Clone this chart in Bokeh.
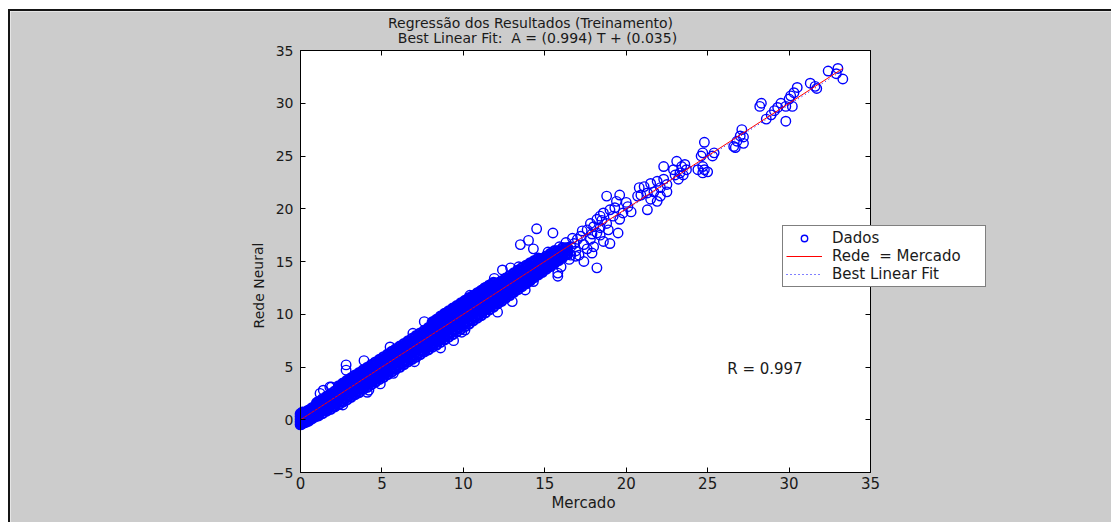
from bokeh.plotting import figure
from bokeh.models import (Range1d, LinearAxis, FixedTicker, Label, Legend,
                          LegendItem, BoxAnnotation)
from bokeh.embed import file_html
from bokeh.resources import INLINE

# ---- texts -------------------------------------------------------------
titulo = "Regressão dos Resultados (Treinamento)"
subtitulo = "Best Linear Fit:\u00a0 A = (0.994) T + (0.035)"
rotulo_x = "Mercado"
rotulo_y = "Rede Neural"
texto_r = "R = 0.997"
legenda = ["Dados", "Rede \u00a0= Mercado", "Best Linear Fit"]

# ---- regression result ----------------------------------------------------
inclinacao = 0.994
intercepto = 0.035
mercado_min = 0.0
mercado_max = 33.3

# axes limits and ticks
x_lim = (0, 35)
y_lim = (-5, 35)
x_ticks = [0, 5, 10, 15, 20, 25, 30, 35]
y_ticks = [-5, 0, 5, 10, 15, 20, 25, 30, 35]

# ---- dense part of the training set: Mercado value -> Rede outputs ----------
core_mercado = [0.0, 0.08, 0.15, 0.25, 0.35, 0.5, 0.7, 0.9, 1.1, 1.35, 1.6, 1.85,
                2.1, 2.35, 2.6, 2.85, 3.1, 3.35, 3.6, 3.85, 4.1, 4.35, 4.6, 4.85,
                5.1, 5.35, 5.6, 5.85, 6.1, 6.35, 6.6, 6.85, 7.1, 7.35, 7.6, 7.85,
                8.1, 8.35, 8.6, 8.85, 9.1, 9.35, 9.6, 9.85, 10.1, 10.35, 10.6, 10.85,
                11.1, 11.35, 11.6, 11.85, 12.1, 12.35, 12.6, 12.85, 13.1, 13.35, 13.6,
                13.85, 14.1, 14.35, 14.6, 14.85, 15.1, 15.35, 15.6, 15.85, 16.1, 16.4]
core_rede = [
    [-0.45, -0.2, 0.05, 0.3, 0.55], [-0.4, -0.1, 0.15, 0.45], [-0.3, 0.0, 0.3, 0.6],
    [-0.25, 0.05, 0.35, 0.65], [-0.2, 0.1, 0.4, 0.75], [-0.1, 0.2, 0.55, 0.9],
    [0.1, 0.4, 0.75, 1.1], [0.3, 0.6, 0.95, 1.3], [0.4, 0.75, 1.1, 1.45, 1.7],
    [0.6, 0.95, 1.3, 1.6, 1.95], [0.85, 1.2, 1.55, 1.9, 2.2], [1.0, 1.4, 1.75, 2.1, 2.45],
    [1.25, 1.6, 2.0, 2.35, 2.7], [1.45, 1.85, 2.2, 2.6, 2.95, 3.2],
    [1.7, 2.05, 2.45, 2.8, 3.15, 3.45], [1.9, 2.3, 2.7, 3.05, 3.4, 3.7],
    [2.15, 2.55, 2.9, 3.3, 3.65, 3.95], [2.4, 2.8, 3.15, 3.55, 3.9, 4.2],
    [2.6, 3.0, 3.4, 3.75, 4.1, 4.45], [2.9, 3.25, 3.65, 4.0, 4.35, 4.7],
    [3.1, 3.5, 3.9, 4.25, 4.6, 4.95], [3.35, 3.75, 4.1, 4.5, 4.85, 5.2],
    [3.6, 3.95, 4.35, 4.75, 5.1, 5.45], [3.85, 4.2, 4.6, 5.0, 5.35, 5.7],
    [4.05, 4.45, 4.85, 5.2, 5.6, 5.95], [4.3, 4.7, 5.1, 5.45, 5.85, 6.2],
    [4.55, 4.95, 5.35, 5.7, 6.1, 6.45], [4.8, 5.2, 5.6, 5.95, 6.35, 6.7],
    [5.0, 5.4, 5.8, 6.2, 6.6, 6.95], [5.25, 5.65, 6.05, 6.45, 6.85, 7.2],
    [5.5, 5.9, 6.3, 6.7, 7.1, 7.45], [5.75, 6.15, 6.55, 6.95, 7.3, 7.7],
    [5.95, 6.4, 6.8, 7.2, 7.55, 7.95], [6.2, 6.6, 7.05, 7.45, 7.85, 8.2],
    [6.45, 6.85, 7.25, 7.7, 8.1, 8.45], [6.65, 7.1, 7.5, 7.9, 8.35, 8.7],
    [6.9, 7.3, 7.75, 8.15, 8.55, 8.95, 9.25], [7.1, 7.55, 8.0, 8.4, 8.8, 9.2, 9.5],
    [7.35, 7.8, 8.25, 8.65, 9.05, 9.45, 9.8], [7.6, 8.05, 8.45, 8.9, 9.3, 9.7, 10.05],
    [7.85, 8.3, 8.7, 9.15, 9.55, 9.95, 10.3], [8.1, 8.55, 8.95, 9.4, 9.8, 10.2, 10.55],
    [8.35, 8.8, 9.2, 9.65, 10.05, 10.45, 10.8], [8.6, 9.05, 9.45, 9.9, 10.3, 10.7, 11.05],
    [8.85, 9.3, 9.7, 10.15, 10.55, 10.95, 11.3], [9.1, 9.55, 9.95, 10.4, 10.8, 11.2, 11.55],
    [9.4, 9.8, 10.25, 10.65, 11.05, 11.45, 11.75], [9.65, 10.05, 10.5, 10.9, 11.3, 11.7, 12.0],
    [9.9, 10.3, 10.75, 11.15, 11.55, 11.95, 12.25], [10.15, 10.6, 11.0, 11.4, 11.8, 12.2, 12.5],
    [10.45, 10.85, 11.25, 11.65, 12.05, 12.45, 12.75], [10.7, 11.1, 11.5, 11.9, 12.3, 12.7, 13.0],
    [11.0, 11.4, 11.8, 12.15, 12.55, 12.95], [11.25, 11.65, 12.05, 12.4, 12.8, 13.15],
    [11.55, 11.95, 12.3, 12.7, 13.05, 13.4], [11.8, 12.2, 12.55, 12.95, 13.3, 13.65],
    [12.1, 12.45, 12.85, 13.2, 13.55, 13.9], [12.35, 12.7, 13.1, 13.45, 13.8, 14.15],
    [12.65, 13.0, 13.35, 13.7, 14.05, 14.4], [12.9, 13.25, 13.6, 13.95, 14.3, 14.6],
    [13.2, 13.55, 13.9, 14.2, 14.55, 14.85], [13.5, 13.8, 14.15, 14.45, 14.8, 15.05],
    [13.75, 14.05, 14.4, 14.7, 15.0, 15.3], [14.0, 14.35, 14.65, 14.95, 15.25],
    [14.3, 14.6, 14.9, 15.2, 15.5], [14.55, 14.85, 15.15, 15.45, 15.75],
    [14.85, 15.15, 15.45, 15.75, 16.0], [15.1, 15.4, 15.7, 16.0],
    [15.4, 15.7, 16.0, 16.3], [15.7, 16.0, 16.3],
]
core2_mercado = [0.12, 0.6, 0.8, 1.0, 1.22, 1.47, 1.72, 1.97, 2.22, 2.47, 2.72, 2.97,
                 3.22, 3.47, 3.72, 3.97, 4.22, 4.47, 4.72, 4.97, 5.22, 5.47, 5.72, 5.97,
                 6.22, 6.47, 6.72, 6.97, 7.22, 7.47, 7.72, 7.97, 8.22, 8.47, 8.72, 8.97,
                 9.22, 9.47, 9.72, 9.97, 10.22, 10.47, 10.72, 10.97, 11.22, 11.47, 11.72,
                 11.97, 12.22, 12.47, 12.72, 12.97, 13.22, 13.47, 13.72, 13.97, 14.22,
                 14.47, 14.72, 14.97, 15.22, 15.47, 15.72, 15.97, 16.25]
core2_rede = [
    [-0.3, -0.05, 0.2, 0.45, 0.7], [0.15, 0.48, 0.83], [0.35, 0.7, 1.05],
    [0.55, 0.9, 1.25, 1.6], [0.7, 1.05, 1.4, 1.7], [0.9, 1.25, 1.55, 1.9],
    [1.1, 1.45, 1.8, 2.15], [1.3, 1.65, 2.0, 2.35], [1.55, 1.9, 2.3, 2.65],
    [1.75, 2.15, 2.5, 2.9, 3.2], [2.0, 2.4, 2.75, 3.1, 3.45], [2.25, 2.6, 3.0, 3.35, 3.7],
    [2.45, 2.85, 3.2, 3.6, 3.95], [2.7, 3.1, 3.45, 3.85, 4.2], [2.95, 3.35, 3.7, 4.05, 4.45],
    [3.2, 3.55, 3.95, 4.3, 4.65], [3.45, 3.8, 4.2, 4.55, 4.9], [3.7, 4.05, 4.45, 4.8, 5.15],
    [3.9, 4.3, 4.7, 5.05, 5.4], [4.15, 4.55, 4.95, 5.3, 5.65], [4.4, 4.8, 5.15, 5.55, 5.9],
    [4.65, 5.05, 5.4, 5.8, 6.15], [4.9, 5.3, 5.65, 6.05, 6.4], [5.15, 5.5, 5.9, 6.3, 6.65],
    [5.35, 5.75, 6.15, 6.55, 6.9], [5.6, 6.0, 6.4, 6.8, 7.15], [5.85, 6.25, 6.65, 7.05, 7.4],
    [6.1, 6.5, 6.9, 7.3, 7.65], [6.3, 6.75, 7.15, 7.5, 7.9], [6.55, 6.95, 7.4, 7.8, 8.15],
    [6.8, 7.2, 7.6, 8.05, 8.4], [7.05, 7.45, 7.85, 8.3, 8.7],
    [7.25, 7.7, 8.1, 8.5, 8.9, 9.3], [7.5, 7.95, 8.35, 8.75, 9.15, 9.55],
    [7.75, 8.2, 8.6, 9.0, 9.4, 9.8], [8.0, 8.45, 8.85, 9.25, 9.65, 10.05],
    [8.25, 8.7, 9.1, 9.5, 9.9, 10.3], [8.5, 8.95, 9.35, 9.75, 10.15, 10.55],
    [8.75, 9.2, 9.6, 10.0, 10.4, 10.8], [9.0, 9.45, 9.85, 10.25, 10.65, 11.05],
    [9.25, 9.7, 10.1, 10.5, 10.9, 11.3], [9.5, 9.95, 10.35, 10.75, 11.15, 11.55],
    [9.75, 10.2, 10.6, 11.0, 11.4, 11.8], [10.0, 10.45, 10.85, 11.25, 11.65, 12.05],
    [10.3, 10.7, 11.1, 11.5, 11.9, 12.3], [10.55, 10.95, 11.35, 11.75, 12.15, 12.55],
    [10.8, 11.2, 11.6, 12.0, 12.4, 12.8], [11.05, 11.45, 11.85, 12.25, 12.65],
    [11.3, 11.7, 12.1, 12.5, 12.9], [11.6, 11.95, 12.35, 12.75, 13.1],
    [11.85, 12.25, 12.6, 13.0, 13.35], [12.1, 12.5, 12.85, 13.25, 13.6],
    [12.4, 12.75, 13.1, 13.5, 13.85], [12.65, 13.0, 13.35, 13.75, 14.1],
    [12.9, 13.25, 13.6, 13.95, 14.3], [13.2, 13.5, 13.85, 14.2, 14.55],
    [13.45, 13.8, 14.1, 14.45, 14.8], [13.75, 14.05, 14.4, 14.7, 15.0],
    [14.0, 14.3, 14.65, 14.95, 15.25], [14.3, 14.6, 14.9, 15.2],
    [14.55, 14.85, 15.15, 15.45], [14.8, 15.1, 15.4, 15.7],
    [15.05, 15.35, 15.65, 15.95], [15.35, 15.65, 15.95], [15.65, 15.95, 16.25],
]

# ---- scattered samples (Mercado, Rede) ------------------------------------
disp_mercado = [32.4, 33.0, 33.3, 32.9, 31.3, 31.6, 31.7,
                30.5, 30.3, 30.1, 30.0, 29.8, 30.2, 29.5, 29.3, 29.1, 28.9, 28.6, 28.3, 28.2, 29.8,
                27.1, 27.0, 26.8, 26.6, 27.2, 27.2, 26.7,
                24.8, 24.7, 24.6, 25.3, 25.4, 24.7, 24.8, 24.7, 24.4, 25.0,
                23.1, 23.4, 23.6, 23.7, 23.3, 23.0, 22.3, 23.2, 23.5, 22.9,
                20.8, 21.1, 21.5, 21.9, 22.3, 22.5, 22.1, 21.7, 21.3, 20.9, 20.7, 21.5, 22.1, 22.5, 21.9, 21.3,
                18.8, 19.6, 19.4, 19.0, 19.2, 19.6, 18.6, 18.4, 18.0, 18.2, 17.8, 17.6, 17.2, 17.0, 16.8,
                16.6, 16.4, 16.2, 16.0, 19.5, 19.0, 18.6, 18.0, 17.8, 18.4, 18.8, 18.2, 20.3, 20.1,
                17.4, 16.9, 17.1, 16.5, 17.6, 18.4, 17.3, 16.7, 16.3, 15.9, 16.6, 17.9, 18.9, 19.8,
                20.0, 19.3, 18.5, 17.9, 17.4, 18.2,
                10.4, 11.3, 11.9, 12.4, 12.9, 13.4, 7.6, 6.9, 5.5, 3.9, 2.8, 2.8, 1.4, 1.2, 1.9, 1.8,
                14.5, 15.5, 15.2, 13.5, 14.3, 14.0,
                2.6, 4.1, 4.2, 4.9, 5.7, 7.0, 8.6, 9.4, 9.9, 10.1, 12.1, 13.0, 13.8, 14.3, 15.8,
                15.8, 16.9, 16.0]
disp_rede = [33.05, 33.3, 32.3, 32.8, 31.9, 31.6, 31.4,
             31.5, 31.0, 30.7, 30.4, 29.7, 29.7, 30.0, 29.6, 29.3, 28.9, 28.5, 30.0, 29.7, 28.3,
             27.5, 26.9, 26.4, 25.9, 26.8, 26.2, 25.8,
             26.3, 25.3, 25.0, 25.0, 25.3, 24.0, 23.7, 23.4, 23.7, 23.5,
             24.5, 24.0, 24.2, 23.7, 23.4, 23.2, 24.0, 22.8, 23.2, 23.7,
             22.0, 22.1, 22.4, 22.6, 22.8, 22.3, 22.0, 21.6, 21.5, 21.3, 21.2, 20.9, 21.2, 21.6, 20.7, 19.9,
             21.2, 21.3, 20.7, 19.9, 19.3, 19.0, 19.6, 19.3, 18.3, 17.7, 18.6, 18.0, 17.4, 17.1, 16.7,
             16.4, 16.1, 15.8, 15.5, 17.7, 16.7, 16.9, 16.4, 17.1, 18.2, 18.6, 19.0, 19.7, 20.2,
             16.6, 16.0, 15.6, 15.2, 16.2, 17.5, 17.9, 17.2, 16.8, 16.4, 15.6, 17.6, 18.0, 19.6,
             20.6, 20.1, 18.9, 15.8, 15.0, 14.4,
             11.8, 12.5, 13.4, 14.2, 14.4, 14.5, 9.3, 8.2, 6.9, 5.6, 5.2, 4.7, 2.8, 2.5, 3.1, 3.1,
             18.1, 17.7, 15.9, 16.6, 16.2, 17.0,
             1.4, 2.6, 2.8, 3.4, 4.4, 5.5, 6.8, 7.5, 8.3, 8.5, 10.2, 11.2, 12.3, 13.1, 13.6,
             13.9, 15.5, 14.5]

nucleo_x, nucleo_y = [], []
for colunas_x, colunas_y in ((core_mercado, core_rede), (core2_mercado, core2_rede)):
    for xv, ys in zip(colunas_x, colunas_y):
        for yv in ys:
            nucleo_x.append(xv)
            nucleo_y.append(yv)

fonte = "DejaVu Sans"
cinza = "#cccccc"
azul = "#0000ff"
texto = "#1a1a1a"

# canvas geometry: the whole canvas is the frame, the axes box sits inside it
W, H = 1103, 513
box_left, box_right, box_top, box_bottom = 290, 860, 39, 461   # pixels from canvas top-left
px_x = (box_right - box_left) / (x_lim[1] - x_lim[0])
px_y = (box_bottom - box_top) / (y_lim[1] - y_lim[0])
x_range = Range1d(x_lim[0] - box_left / px_x, x_lim[1] + (W - box_right) / px_x)
y_range = Range1d(y_lim[0] - (H - box_bottom) / px_y, y_lim[1] + box_top / px_y)

p = figure(width=W, height=H, output_backend="svg", toolbar_location=None,
           x_range=x_range, y_range=y_range,
           min_border=0, min_border_left=0, min_border_right=0,
           min_border_top=0, min_border_bottom=0,
           background_fill_color=cinza, border_fill_color=cinza,
           outline_line_color=None)
p.styles = {"margin-left": "8px", "margin-top": "9px",
            "border-left": "2px solid #151515", "border-top": "2px solid #151515"}
p.grid.visible = False

# white axes box
p.add_layout(BoxAnnotation(left=x_lim[0], right=x_lim[1], bottom=y_lim[0], top=y_lim[1],
                           fill_color="white", fill_alpha=1, line_color="black",
                           line_width=1, level="underlay"))

p.xaxis.fixed_location = y_lim[0]
p.yaxis.fixed_location = x_lim[0]
p.xaxis.bounds = x_lim
p.yaxis.bounds = y_lim
p.xaxis.ticker = FixedTicker(ticks=x_ticks)
p.yaxis.ticker = FixedTicker(ticks=y_ticks)
for ax in p.xaxis + p.yaxis:
    ax.major_tick_in = 5
    ax.major_tick_out = 0
    ax.minor_tick_line_color = None
    ax.axis_line_color = "black"
    ax.major_label_text_font = fonte
    ax.major_label_text_color = texto
p.xaxis.major_label_text_font_size = "15px"
p.yaxis.major_label_text_font_size = "14px"
p.xaxis.major_label_standoff = 4
p.yaxis.major_label_standoff = 7

# box ticks along the top and right edges (ticks only, no labels)
topo = LinearAxis(fixed_location=y_lim[1], bounds=x_lim, ticker=FixedTicker(ticks=x_ticks),
                  major_tick_in=5, major_tick_out=0, minor_tick_line_color=None,
                  major_label_text_color=None)
direita = LinearAxis(fixed_location=x_lim[1], bounds=y_lim, ticker=FixedTicker(ticks=y_ticks),
                     major_tick_in=5, major_tick_out=0, minor_tick_line_color=None,
                     major_label_text_color=None)
p.add_layout(topo, "above")
p.add_layout(direita, "right")

# overlapping samples of the dense band, then the scattered ones
p.scatter(nucleo_x, nucleo_y, marker="circle", size=9.5, fill_color=None,
          line_color=azul, line_width=2.2)
pontos = p.scatter(disp_mercado, disp_rede, marker="circle", size=9.5,
                   fill_color=None, line_color=azul, line_width=1.4)

linha_x = [mercado_min, mercado_max]
ideal = p.line(linha_x, linha_x, line_color="#ff0000", line_width=1)
ajuste_y = [inclinacao * v + intercepto for v in linha_x]
ajuste = p.line(linha_x, ajuste_y, line_color=azul, line_width=1, line_dash="1 3")


def rotulo(x, y, txt, size, **kw):
    return Label(x=x, y=y, x_units="screen", y_units="screen", text=txt,
                 text_font=fonte, text_font_size=size, text_color=texto, **kw)


p.add_layout(rotulo(520, H - 11, titulo, "14px", text_align="center",
                    text_baseline="alphabetic"))
p.add_layout(rotulo(527, H - 26.5, subtitulo, "14px", text_align="center",
                    text_baseline="alphabetic"))
p.add_layout(rotulo(573, H - 491.5, rotulo_x, "15px", text_align="center",
                    text_baseline="alphabetic"))
p.add_layout(rotulo(248, H - 274, rotulo_y, "14px", angle=1.5708, text_align="center",
                    text_baseline="middle"))
p.add_layout(Label(x=26.2, y=4.85, text=texto_r, text_align="left",
                   text_baseline="alphabetic", text_font=fonte, text_font_size="15px",
                   text_color=texto))

leg = Legend(items=[LegendItem(label=legenda[0], renderers=[pontos]),
                    LegendItem(label=legenda[1], renderers=[ideal]),
                    LegendItem(label=legenda[2], renderers=[ajuste])],
             location=(772, H - 276), padding=3, spacing=0, margin=0,
             glyph_width=36, glyph_height=16, label_height=16, label_standoff=10,
             label_width=150, label_text_font=fonte, label_text_font_size="15px",
             label_text_line_height=0.9,
             label_text_color=texto, border_line_color="black", border_line_width=1,
             background_fill_color="white", background_fill_alpha=1)
p.add_layout(leg, "center")

open("out.html", "w").write(file_html(p, INLINE))
